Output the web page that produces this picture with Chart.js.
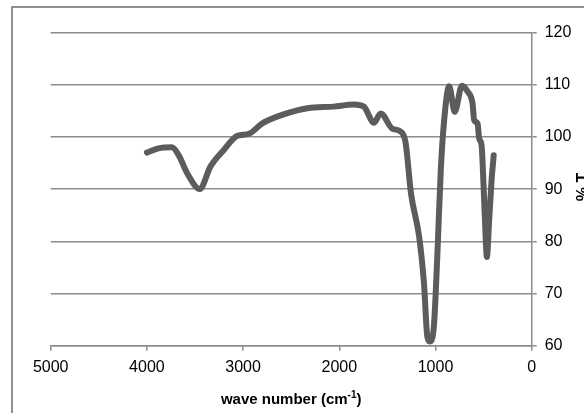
<!DOCTYPE html>
<html>
<head>
<meta charset="utf-8">
<script src="https://cdn.jsdelivr.net/npm/chart.js@4/dist/chart.umd.min.js"></script>
<style>
  html, body { margin: 0; padding: 0; background: #fff; }
  #wrap { width: 584px; height: 413px; }
</style>
</head>
<body>
<div id="wrap"><canvas id="ftir" width="584" height="413"></canvas></div>
<script>
// IR spectrum (wave number in cm-1, %T)
const WAVENUMBER = [
  4000, 3880, 3740, 3670, 3580, 3450, 3340, 3200, 3060, 2940,
  2800, 2580, 2330, 2060, 1850, 1745, 1640, 1570, 1450, 1360,
  1310, 1255, 1170, 1120, 1085, 1060, 1020, 980, 945, 910,
  858, 800, 725, 667, 615, 598, 563, 546, 521, 500,
  476, 466, 442, 417, 395,
];
const TRANSMITTANCE = [
  97.0, 97.8, 98.0, 96.5, 93.0, 90.0, 94.3, 97.5, 100.2, 100.6,
  102.6, 104.3, 105.5, 105.8, 106.2, 105.8, 102.7, 104.5, 101.6, 101.0,
  98.8, 89.2, 80.9, 72.0, 61.7, 60.8, 63.0, 77.7, 93.7, 103.2,
  109.7, 104.8, 109.8, 108.7, 106.4, 103.2, 102.6, 99.7, 98.4, 90.5,
  79.6, 77.0, 84.1, 91.7, 96.5,
];
const X_TICKS = [5000, 4000, 3000, 2000, 1000, 0];
const Y_TICKS = [60, 70, 80, 90, 100, 110, 120];
const X_TITLE = 'wave number (cm';
const X_TITLE_SUP = '-1';
const X_TITLE_END = ')';
const Y_TITLE = '% T';

const FONT = "'Liberation Sans', Arial, sans-serif";
const GRID = '#8c8c8c';
const INK = '#5c5c5c';

// outer frame + axis titles (superscript needs manual drawing)
const decor = {
  id: 'decor',
  beforeDraw(chart) {
    const ctx = chart.ctx;
    ctx.save();
    ctx.strokeStyle = '#8f8f8f';
    ctx.lineWidth = 2;
    ctx.strokeRect(12, 7, 640, 480);
    ctx.restore();
  },
  afterDraw(chart) {
    const ctx = chart.ctx;
    const a = chart.chartArea;
    ctx.save();
    ctx.fillStyle = '#000';
    ctx.textBaseline = 'alphabetic';

    // x title
    const big = 'bold 15px ' + FONT;
    const small = 'bold 10px ' + FONT;
    ctx.font = big;
    const w1 = ctx.measureText(X_TITLE).width;
    const w3 = ctx.measureText(X_TITLE_END).width;
    ctx.font = small;
    const w2 = ctx.measureText(X_TITLE_SUP).width;
    let x = (a.left + a.right) / 2 - (w1 + w2 + w3) / 2;
    const base = 404;
    ctx.textAlign = 'left';
    ctx.font = big;
    ctx.fillText(X_TITLE, x, base);
    x += w1;
    ctx.font = small;
    ctx.fillText(X_TITLE_SUP, x, base - 6);
    x += w2;
    ctx.font = big;
    ctx.fillText(X_TITLE_END, x, base);

    // y title, reads bottom to top
    ctx.translate(588, 187);
    ctx.rotate(-Math.PI / 2);
    ctx.textAlign = 'center';
    ctx.font = 'bold 16px ' + FONT;
    ctx.fillText(Y_TITLE, 0, 0);
    ctx.restore();
  },
};

const points = WAVENUMBER.map((w, i) => ({ x: w, y: TRANSMITTANCE[i] }));

new Chart(document.getElementById('ftir'), {
  type: 'line',
  data: {
    datasets: [{
      data: points,
      borderColor: INK,
      borderWidth: 6,
      borderCapStyle: 'round',
      borderJoinStyle: 'round',
      pointRadius: 0,
      fill: false,
      cubicInterpolationMode: 'monotone',
    }],
  },
  options: {
    responsive: false,
    animation: false,
    devicePixelRatio: 1,
    layout: { padding: { left: 50.7, top: 32.5, right: 0, bottom: 0 } },
    plugins: { legend: { display: false }, tooltip: { enabled: false } },
    scales: {
      x: {
        type: 'linear',
        reverse: true,
        min: Math.min(...X_TICKS),
        max: Math.max(...X_TICKS),
        afterBuildTicks: (s) => { s.ticks = X_TICKS.map((v) => ({ value: v })); },
        afterFit: (s) => { s.height = 413 - 345.7; },
        grid: { drawOnChartArea: false, tickLength: 5, color: GRID, lineWidth: 1.5 },
        border: { color: GRID, width: 1.5 },
        ticks: {
          color: '#000', font: { family: FONT, size: 16 }, padding: 7, maxRotation: 0,
          callback: (v) => String(v),
        },
      },
      y: {
        position: 'right',
        min: Math.min(...Y_TICKS),
        max: Math.max(...Y_TICKS),
        afterBuildTicks: (s) => { s.ticks = Y_TICKS.map((v) => ({ value: v })); },
        afterFit: (s) => { s.width = 584 - 531.7; },
        grid: { tickLength: 5, color: GRID, lineWidth: 1.5 },
        border: { color: GRID, width: 1.5 },
        ticks: { color: '#000', font: { family: FONT, size: 16 }, padding: 8, callback: (v) => String(v) },
      },
    },
  },
  plugins: [decor],
});
</script>
</body>
</html>
